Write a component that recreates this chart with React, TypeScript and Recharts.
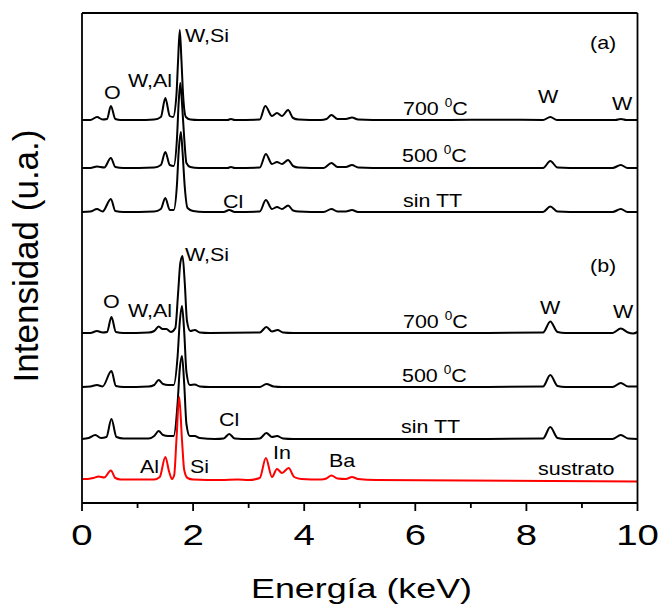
import { Line, LineChart, XAxis, YAxis } from "recharts";

// energy (keV), counts above each trace's own baseline (u.a.)
const a700: [number, number][] = [
  [0, 0], [0.15, 0], [0.27, 3], [0.37, 0.5], [0.45, 1], [0.52, 14], [0.6, 1], [0.7, 0], [1.0, 0],
  [1.3, 0.5], [1.42, 3], [1.5, 22], [1.58, 4], [1.64, 3], [1.7, 25], [1.73, 60], [1.76, 90], [1.79, 60],
  [1.82, 25], [1.87, 3], [1.95, 0.5], [2.1, 0], [2.62, 0], [2.68, 1], [2.75, 0], [3.2, 0.5], [3.3, 14],
  [3.42, 4], [3.51, 7], [3.6, 4], [3.71, 10], [3.8, 2], [3.9, 0.5], [4.3, 0], [4.4, 1], [4.49, 5],
  [4.6, 1], [4.75, 1], [4.86, 2.5], [4.97, 0.5], [5.5, 0], [6.5, 0], [7.5, 0.3], [8.3, 0], [8.43, 3],
  [8.55, 0], [9.0, 0], [9.6, 0], [9.7, 1], [9.8, 0], [10, 0],
];
const a500: [number, number][] = [
  [0, 0], [0.15, 0], [0.27, 1.5], [0.4, 0.5], [0.52, 10], [0.6, 1], [0.75, 0], [1.3, 0.5], [1.42, 3],
  [1.5, 16], [1.58, 3], [1.65, 2], [1.71, 30], [1.74, 65], [1.77, 85], [1.8, 65], [1.84, 30], [1.88, 5],
  [1.95, 1], [2.1, 0], [2.62, 0], [2.68, 1], [2.75, 0], [3.2, 0.5], [3.31, 14], [3.42, 4], [3.51, 6],
  [3.6, 4], [3.71, 8], [3.8, 2], [3.9, 0.5], [4.35, 0], [4.49, 5], [4.6, 1], [4.75, 1], [4.86, 3],
  [4.97, 0.5], [5.5, 0], [7, 0], [8.3, 0], [8.43, 7], [8.56, 0.5], [9.0, 0], [9.55, 0], [9.7, 3],
  [9.82, 0], [10, 0],
];
const aSinTT: [number, number][] = [
  [0, 0], [0.15, 0.5], [0.27, 3], [0.37, 0.5], [0.52, 13], [0.6, 1], [0.75, 0], [1.3, 0.5], [1.42, 3],
  [1.5, 14], [1.58, 2], [1.65, 2], [1.71, 28], [1.74, 60], [1.78, 80], [1.81, 60], [1.85, 25], [1.9, 4],
  [2.0, 1], [2.2, 0], [2.55, 0], [2.65, 2], [2.75, 0], [3.2, 0.5], [3.31, 12], [3.42, 3], [3.51, 5],
  [3.6, 3], [3.71, 6.5], [3.8, 1.5], [3.9, 0.5], [4.35, 0], [4.49, 3], [4.6, 0.5], [4.75, 0.5],
  [4.86, 2], [4.97, 0], [7, 0], [8.3, 0], [8.43, 5.5], [8.56, 0.5], [9, 0], [9.55, 0], [9.7, 3],
  [9.82, 0], [10, 0],
];
const b700: [number, number][] = [
  [0, 0], [0.15, 0], [0.27, 2], [0.37, 0.5], [0.45, 1], [0.53, 16], [0.61, 1], [0.75, 0], [1.2, 0.5],
  [1.3, 2], [1.38, 6.5], [1.45, 4], [1.52, 4], [1.6, 1], [1.68, 5], [1.73, 40], [1.77, 70], [1.81, 77],
  [1.85, 50], [1.89, 12], [1.95, 2], [2.03, 3], [2.12, 0.5], [2.3, 0], [3.2, 0.5], [3.32, 6], [3.42, 1.5],
  [3.52, 3], [3.62, 0.5], [3.8, 0], [7.0, 0], [8.3, 0.5], [8.43, 11.5], [8.56, 1], [8.7, 0], [9.55, 0],
  [9.7, 4.5], [9.83, 0.5], [9.92, -0.5], [10, 1],
];
const b500: [number, number][] = [
  [0, 0], [0.15, 0.5], [0.27, 2], [0.37, 0.5], [0.53, 16], [0.61, 1], [0.75, 0], [1.2, 0.5], [1.3, 2],
  [1.38, 7], [1.46, 3], [1.55, 2], [1.65, 2], [1.72, 30], [1.76, 65], [1.8, 81], [1.84, 55], [1.88, 15],
  [1.94, 2], [2.03, 2.5], [2.12, 0.5], [2.3, 0], [3.2, 0], [3.32, 3], [3.45, 0.5], [3.6, 0], [7, 0],
  [8.3, 0.5], [8.43, 12], [8.56, 1], [8.7, 0], [9.55, 0], [9.7, 4], [9.83, 0.5], [10, 0.5],
];
const bSinTT: [number, number][] = [
  [0, 0], [0.12, 1], [0.24, 4], [0.34, 1], [0.44, 2], [0.53, 20], [0.62, 2], [0.75, 0.5], [1.2, 0.5],
  [1.3, 3], [1.38, 8], [1.46, 4], [1.55, 3], [1.65, 3], [1.72, 35], [1.76, 70], [1.8, 83], [1.84, 55],
  [1.88, 15], [1.94, 3], [2.03, 3], [2.12, 1], [2.4, 0], [2.55, 0.5], [2.65, 5], [2.75, 0.5], [3.0, 0],
  [3.2, 0.5], [3.32, 6], [3.42, 2], [3.51, 3], [3.62, 0.5], [3.8, 0], [7, 0], [8.3, 0.5], [8.43, 12],
  [8.56, 1], [8.7, 0], [9.55, 0], [9.7, 4], [9.83, 0.5], [10, 0],
];
const sustrato: [number, number][] = [
  [0, 1], [0.1, 1], [0.2, 2], [0.3, 3.5], [0.4, 2.5], [0.52, 9.5], [0.6, 2], [0.7, 0.5], [1.0, 0.5],
  [1.3, 0.5], [1.4, 3], [1.5, 23], [1.57, 8], [1.62, 1], [1.66, 5], [1.7, 40], [1.75, 83], [1.8, 40],
  [1.84, 10], [1.9, 2], [2.0, 0.5], [2.5, 0], [2.8, 0.5], [3.0, 0], [3.2, 2], [3.31, 22], [3.42, 3],
  [3.51, 11], [3.6, 7], [3.72, 12], [3.82, 3], [3.95, 1], [4.3, 0.5], [4.4, 1.5], [4.49, 4.5], [4.6, 1.5],
  [4.75, 1], [4.86, 3], [4.97, 1], [5.3, 0], [10, -1.5],
];

// vertical stacking offsets of each trace
const offA700 = 383;
const offA500 = 335;
const offASinTT = 291;
const offB700 = 170;
const offB500 = 116;
const offBSinTT = 64;
const offSustrato = 23;

const xTicks = [0, 1, 2, 3, 4, 5, 6, 7, 8, 9, 10];

const FONT = "'Liberation Sans', Arial, sans-serif";

const shift = (pts: [number, number][], off: number) => pts.map(([e, v]) => ({ e, v: v + off }));

const traces = [
  { key: "a700", data: shift(a700, offA700), color: "#000" },
  { key: "a500", data: shift(a500, offA500), color: "#000" },
  { key: "aSin", data: shift(aSinTT, offASinTT), color: "#000" },
  { key: "b700", data: shift(b700, offB700), color: "#000" },
  { key: "b500", data: shift(b500, offB500), color: "#000" },
  { key: "bSin", data: shift(bSinTT, offBSinTT), color: "#000" },
  { key: "sus", data: shift(sustrato, offSustrato), color: "#ff0000" },
];

function Txt({ x, y, size = 19, sx = 1.13, children }: any) {
  return (
    <text transform={`translate(${x},${y}) scale(${sx},1)`} fontSize={size} fontFamily={FONT} fill="#000">
      {children}
    </text>
  );
}

function Temp({ x, y, t }: { x: number; y: number; t: string }) {
  return (
    <Txt x={x} y={y}>
      {t + " "}
      <tspan dy={-8} fontSize={12}>0</tspan>
      <tspan dy={8}>C</tspan>
    </Txt>
  );
}

// major ticks (even) get a label and a longer tick, odd ones are minor
function EnergyTick({ x, y, payload }: any) {
  const major = payload.value % 2 === 0;
  return (
    <g>
      <line x1={x} x2={x} y1={y} y2={y + (major ? 8 : 5)} stroke="#000" strokeWidth={1.8} />
      {major && (
        <text
          transform={`translate(${x},${y + 42}) scale(1.28,1)`}
          textAnchor="middle"
          fontSize={30}
          fontFamily={FONT}
          fill="#000"
        >
          {payload.value}
        </text>
      )}
    </g>
  );
}

export default function App() {
  const axisStroke = { stroke: "#000", strokeWidth: 1.8 };
  return (
    <div style={{ position: "absolute", left: 0, top: 0, background: "#fff" }}>
      <LineChart width={658} height={607} margin={{ top: 12, right: 19.5, bottom: 64, left: 81 }}>
        <XAxis
          dataKey="e"
          type="number"
          domain={[0, 10]}
          ticks={xTicks}
          height={40}
          tickSize={0}
          tickMargin={0}
          axisLine={axisStroke}
          tickLine={false}
          tick={<EnergyTick />}
          interval={0}
        />
        <XAxis
          xAxisId="top"
          orientation="top"
          dataKey="e"
          type="number"
          domain={[0, 10]}
          height={1}
          axisLine={axisStroke}
          tickLine={false}
          tick={false}
        />
        <YAxis type="number" domain={[0, 490]} width={1} axisLine={axisStroke} tickLine={false} tick={false} />
        <YAxis
          yAxisId="right"
          orientation="right"
          type="number"
          domain={[0, 490]}
          width={1}
          axisLine={axisStroke}
          tickLine={false}
          tick={false}
        />
        {traces.map((t) => (
          <Line
            key={t.key}
            data={t.data}
            dataKey="v"
            type="monotone"
            stroke={t.color}
            strokeWidth={2}
            dot={false}
            isAnimationActive={false}
          />
        ))}

        {/* (a) */}
        <Txt x={185} y={42}>W,Si</Txt>
        <Txt x={128} y={87}>W,Al</Txt>
        <Txt x={104} y={99}>O</Txt>
        <Txt x={223} y={208}>Cl</Txt>
        <Txt x={590} y={49}>(a)</Txt>
        <Temp x={403} y={115} t="700" />
        <Temp x={402} y={162} t="500" />
        <Txt x={403} y={207}>sin TT</Txt>
        <Txt x={538} y={103}>W</Txt>
        <Txt x={612} y={110}>W</Txt>

        {/* (b) */}
        <Txt x={185} y={261}>W,Si</Txt>
        <Txt x={103} y={308}>O</Txt>
        <Txt x={128} y={317}>W,Al</Txt>
        <Txt x={219} y={426}>Cl</Txt>
        <Txt x={140} y={473}>Al</Txt>
        <Txt x={190} y={473}>Si</Txt>
        <Txt x={273} y={459}>In</Txt>
        <Txt x={329} y={467}>Ba</Txt>
        <Txt x={590} y={272}>(b)</Txt>
        <Temp x={403} y={328} t="700" />
        <Temp x={402} y={382} t="500" />
        <Txt x={401} y={433}>sin TT</Txt>
        <Txt x={540} y={314}>W</Txt>
        <Txt x={613} y={318}>W</Txt>
        <Txt x={538} y={475}>sustrato</Txt>

        <text transform="translate(361.5,598) scale(1.28,1)" textAnchor="middle" fontSize={28} fontFamily={FONT} fill="#000">
          Energía (keV)
        </text>
        <text transform="translate(37.5,256) rotate(-90)" textAnchor="middle" fontSize={35} fontFamily={FONT} fill="#000">
          Intensidad (u.a.)
        </text>
      </LineChart>
    </div>
  );
}
